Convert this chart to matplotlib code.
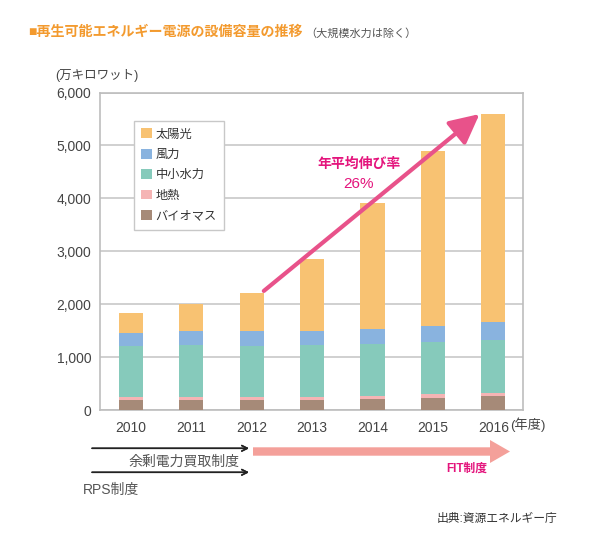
import matplotlib.pyplot as plt
from matplotlib.patches import FancyArrow
import numpy as np

plt.rcParams['font.family'] = ['Liberation Sans', 'Noto Sans CJK JP']

years = ['2010', '2011', '2012', '2013', '2014', '2015', '2016']
biomass = [189, 190, 190, 190, 208, 226, 264]
geothermal = [56, 55, 55, 55, 62, 70, 63]
hydro = [963, 975, 963, 981, 980, 987, 994]
wind = [239, 270, 277, 264, 278, 302, 339]
solar = [392, 510, 730, 1369, 2390, 3315, 3933]

series = [
    ('バイオマス', biomass, '#a68a78'),
    ('地熱', geothermal, '#f5b4b4'),
    ('中小水力', hydro, '#86cabb'),
    ('風力', wind, '#89b3df'),
    ('太陽光', solar, '#f8c272'),
]

W, H = 592, 547
fig = plt.figure(figsize=(W / 100, H / 100), dpi=100)


def px(x, y):
    # pixel position (from top-left) -> figure fraction
    return x / W, 1 - y / H


ax = fig.add_axes([99.5 / W, 1 - 410 / H, 423.2 / W, 317.5 / H])

x = np.arange(len(years))
bottom = np.zeros(len(years))
handles = []
for name, vals, col in series:
    b = ax.bar(x, vals, 0.4, bottom=bottom, color=col, label=name, linewidth=0, zorder=3)
    handles.append(b)
    bottom += np.array(vals)

ax.set_xlim(-0.52, 6.485)
ax.set_ylim(0, 6000)
ax.set_yticks(range(0, 6001, 1000))
ax.set_yticklabels(['0', '1,000', '2,000', '3,000', '4,000', '5,000', '6,000'])
ax.set_xticks(x)
ax.set_xticklabels(years)
ax.tick_params(length=0, labelsize=10, labelcolor='#444444', pad=8)
ax.tick_params(axis='y', pad=6)
ax.grid(axis='y', color='#c8c8c8', lw=1.2, zorder=0)
for s in ax.spines.values():
    s.set_color('#bdbdbd')
    s.set_linewidth(1.2)

leg = ax.legend(handles[::-1], [s[0] for s in series][::-1], loc='upper left',
                bbox_to_anchor=(0.0815, 0.91), borderaxespad=0, fancybox=False,
                edgecolor='#c8c8c8', fontsize=8.8, handlelength=0.85, handleheight=0.85,
                handletextpad=0.3, labelspacing=0.68, borderpad=0.6, framealpha=1)
leg.get_frame().set_linewidth(1)
for t in leg.get_texts():
    t.set_color('#333333')

# growth arrow
ax.annotate('', xy=(5.77, 5593), xytext=(2.2, 2250),
            arrowprops=dict(arrowstyle='-|>,head_length=1.0,head_width=0.5', lw=3,
                            color='#e8528a', shrinkA=0, shrinkB=0, mutation_scale=18),
            zorder=5)
ax.text(3.77, 4650, '年平均伸び率', ha='center', va='center', fontsize=10,
        color='#e4147c', fontweight='bold')
ax.text(3.77, 4280, '26%', ha='center', va='center', fontsize=11, color='#e4147c')

# texts around axes
fig.text(*px(55, 76), '(万キロワット)', ha='left', va='center', fontsize=9, color='#444444')
fig.text(*px(510, 425), '(年度)', ha='left', va='center', fontsize=9.5, color='#444444')

fig.text(*px(28, 32), '■再生可能エネルギー電源の設備容量の推移', ha='left', va='center',
         fontsize=10.1, color='#f39a2e', fontweight='bold')
fig.text(*px(305, 33), '（大規模水力は除く）', ha='left', va='center', fontsize=8,
         color='#555555')

# policy arrows
for yy in (448.3, 472.3):
    fig.add_artist(plt.annotate('', xy=px(249, yy), xytext=px(92, yy), xycoords='figure fraction',
                                textcoords='figure fraction',
                                arrowprops=dict(arrowstyle='->', lw=1.1, color='#222222',
                                                shrinkA=0, shrinkB=0)))
fx0, fy0 = px(253, 451.5)
fig.add_artist(FancyArrow(fx0, fy0, (510 - 253) / W, 0, width=8.4 / H, head_width=23 / H,
                          head_length=20 / W, length_includes_head=True, color='#f4a09a',
                          lw=0, transform=fig.transFigure))
fig.text(*px(128, 462), '余剰電力買取制度', ha='left', va='center', fontsize=10, color='#555555')
fig.text(*px(83, 490), 'RPS制度', ha='left', va='center', fontsize=10, color='#555555')
fig.text(*px(487, 469), 'FIT制度', ha='right', va='center', fontsize=8.5, color='#e4147c',
         fontweight='bold')
fig.text(*px(557, 519), '出典:資源エネルギー庁', ha='right', va='center', fontsize=8.5,
         color='#333333')

fig.savefig('out.png', dpi=100, facecolor='white')
